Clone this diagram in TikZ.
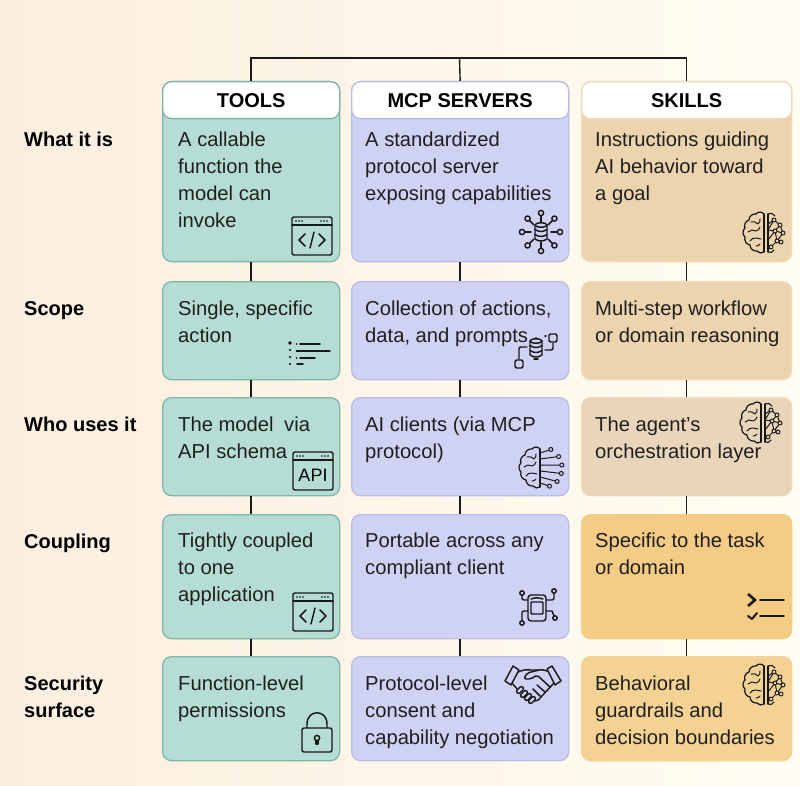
\documentclass[tikz,border=0pt]{standalone}
\usepackage{fontspec}
\setmainfont{Liberation Sans}
\usetikzlibrary{calc,positioning}

\definecolor{paperL}{HTML}{FBEEDF}
\definecolor{paperM}{HTML}{FDF5E9}
\definecolor{paperR}{HTML}{FFFDF2}
\definecolor{toolFill}{HTML}{B6DDD3}
\definecolor{toolEdge}{HTML}{7FB5A6}
\definecolor{mcpFill}{HTML}{CFD2F3}
\definecolor{mcpEdge}{HTML}{B9BDE6}
\definecolor{skillFill}{HTML}{ECD4AE}
\definecolor{skillEdge}{HTML}{F0DABA}
\definecolor{skillSoft}{HTML}{E9D5BA}
\definecolor{skillGold}{HTML}{F4CC86}
\definecolor{skillWarm}{HTML}{F4D294}
\definecolor{inkLine}{HTML}{1A1A1A}

\tikzset{
    x=1pt, y=-1pt,
    box/.style={rectangle, rounded corners=9pt, line width=1.3pt, anchor=north west, inner sep=0pt},
    toolbox/.style={box, fill=toolFill, draw=toolEdge, minimum width=177pt},
    mcpbox/.style={box, fill=mcpFill, draw=mcpEdge, minimum width=217pt},
    skillbox/.style={box, fill=skillFill, draw=skillEdge, minimum width=210pt},
    head/.style={box, fill=white, minimum height=37pt, font=\fontsize{20}{24}\selectfont\bfseries, text=black},
    bodytext/.style={anchor=north west, align=left, inner sep=0pt, text=black!88, font=\fontsize{20.2}{27}\selectfont},
    rowlabel/.style={anchor=north west, align=left, inner sep=0pt, text=black, font=\fontsize{20}{27}\selectfont\bfseries},
    link/.style={draw=inkLine, line width=1.4pt},
    ico/.style={line width=1.45pt, draw=black!90, line cap=round, line join=round},
    % window with </> or other content
    pics/winframe/.style={code={
        \draw[ico, rounded corners=2pt] (-20,-19) rectangle (20,19);
        \draw[ico] (-20,-11) -- (20,-11);
        \foreach \dx in {-16,-13,-10,9,12,15} \fill[black] (\dx,-15) circle (0.8);
    }},
    pics/codewin/.style={code={
        \pic {winframe};
        \draw[ico] (-7,-2) -- (-13,4) -- (-7,10);
        \draw[ico] (7,-2) -- (13,4) -- (7,10);
        \draw[ico] (2,-4) -- (-2,12);
    }},
    pics/listicon/.style={code={
        \fill[black] (-20,-12) circle (1.8);
        \foreach \yy in {-5,2,9} \fill[black] (-20,\yy) circle (1.2);
        \foreach \yy in {-11,-4,3} \fill[black] (-13.5,\yy) circle (0.9);
        \draw[ico, line width=1.7pt] (-10,-11) -- (10,-11);
        \draw[ico, line width=1.7pt] (-13,-4) -- (20,-4);
        \draw[ico, line width=1.7pt] (-10,3) -- (5,3);
        \draw[ico, line width=1.7pt] (-13,9) -- (-7,9);
    }},
    pics/dbstack/.style={code={
        \draw[ico] (-6,-7) -- (-6,7) to[bend right=35] (6,7) -- (6,-7);
        \draw[ico] (0,-7) ellipse (6 and 2.2);
        \draw[ico] (-6,-2.5) to[bend right=35] (6,-2.5);
        \draw[ico] (-6,2.5) to[bend right=35] (6,2.5);
    }},
    pics/hubicon/.style={code={
        \pic {dbstack};
        \foreach \a in {0,45,...,315} {
            \draw[ico] (\a:10) -- (\a:16);
            \draw[ico, fill=mcpFill] (\a:19) circle (2.6);
        }
    }},
    pics/flowicon/.style={code={
        \begin{scope}[scale=0.75]\pic {dbstack};\end{scope}
        \draw[ico, rounded corners=1.5pt] (13,-14) rectangle (21,-6) ;
        \draw[ico, rounded corners=1.5pt] (-21,12) rectangle (-13,20);
        \draw[ico, rounded corners=2pt] (17,-5) -- (17,2) -- (9,2);
        \draw[ico, rounded corners=2pt] (-17,11) -- (-17,-1) -- (-9,-1);
        \fill[black] (0,-10) circle (0.9);
        \draw[ico] (-2,11) -- (2,11);
        \draw[ico] (9,-12) -- (10,-12);
    }},
    pics/apiwin/.style={code={
        \pic {winframe};
        \node[inner sep=0pt, font=\fontsize{18}{18}\selectfont, text=black] at (0,4) {API};
    }},
    pics/lefthalf/.style={code={
        \draw[ico, line width=1.25pt] (-1,-19) to[bend right=55] (-9,-19) to[bend right=50] (-16,-13)
            to[bend right=50] (-20,-5) to[bend right=50] (-20,4) to[bend right=50] (-15,12)
            to[bend right=50] (-8,18) to[bend right=45] (-1,19);
        \draw[ico, line width=1.25pt] (-1,-19) -- (-1,19);
        \draw[ico, line width=1pt] (-14,-11) to[bend left=30] (-7,-9) to[bend right=30] (-5,-14);
        \draw[ico, line width=1pt] (-17,-1) to[bend left=40] (-9,-2) to[bend right=30] (-5,-6);
        \draw[ico, line width=1pt] (-15,8) to[bend left=30] (-9,5) to[bend right=20] (-4,6);
        \draw[ico, line width=1pt] (-9,13) to[bend right=30] (-5,11);
    }},
    pics/brainicon/.style={code={
        \pic {lefthalf};
        \draw[ico, line width=1.25pt] (3,-19) -- (3,19);
        \draw[ico, line width=1.1pt] (3,-19) to[bend left=50] (10,-17);
        \draw[ico, line width=1.1pt] (3,19) to[bend right=50] (9,17);
        \draw[ico, line width=1pt] (3,-9) -- (9,-13) -- (15,-8) -- (18,0) -- (12,8) -- (6,14) -- (3,15);
        \draw[ico, line width=1pt] (3,-3) -- (9,-13);
        \draw[ico, line width=1pt] (3,-3) -- (10,-2) -- (18,0);
        \draw[ico, line width=1pt] (10,-2) -- (12,8);
        \draw[ico, line width=1pt] (3,7) -- (10,-2);
        \draw[ico, line width=1pt] (15,-8) -- (10,-2);
        \draw[ico, line width=1pt] (12,8) -- (16,9);
        \foreach \px/\py in {9/-13,15/-8,18/0,10/-2,12/8,6/14,16/9}
            \draw[ico, line width=1pt, fill=skillFill] (\px,\py) circle (2);
    }},
    pics/raybrain/.style={code={
        \pic {lefthalf};
        \foreach \a/\r/\sx in {-62/21/-15,-33/21/-9,-8/21/-3,15/21/3,40/21/9,65/20/15}{
            \draw[ico, line width=1pt] (-1,\sx) -- (\a:\r);
            \draw[ico, line width=1pt, fill=mcpFill] (\a:\r) circle (2);
        }
    }},
    pics/chipicon/.style={code={
        \draw[ico, rounded corners=3pt] (-9,-13) rectangle (9,13);
        \draw[ico, rounded corners=1pt] (-6,-6) rectangle (6,6);
        \draw[ico] (-6,-9) to[bend left=20] (6,-9);
        \draw[ico, rounded corners=2pt] (-9,-8) -- (-15,-8) -- (-15,-14);
        \draw[ico, rounded corners=2pt] (9,-8) -- (17,-8) -- (17,-16);
        \draw[ico, rounded corners=2pt] (-9,3) -- (-15,3) -- (-15,13);
        \draw[ico] (9,3) -- (15,3) -- (17,8);
        \draw[ico, fill=mcpFill] (-15,-15) circle (2.2);
        \draw[ico, fill=mcpFill] (17,-17) circle (2.2);
        \draw[ico, fill=mcpFill] (-15,15) circle (2.2);
        \draw[ico, fill=mcpFill] (18,10) circle (2.2);
    }},
    pics/shakeicon/.style={code={
        \draw[ico] (-28,-3) -- (-20,-18) -- (-14,-14) -- (-22,1) -- cycle;
        \draw[ico] (28,-3) -- (19,-18) -- (14,-15) -- (22,1) -- cycle;
        \draw[ico] (-15,-12) to[bend left=15] (-2,-14) -- (6,-14) to[bend left=15] (14,-13);
        \draw[ico] (-21,-1) -- (-15,6);
        \draw[ico] (21,-1) -- (8,13) to[bend left=30] (2,17);
        \draw[ico, rounded corners=2pt] (6,-14) -- (-6,-11) -- (-9,-5) -- (-2,-5) -- (4,-9) -- (17,3);
        \foreach \dx/\dy in {-13/6,-9/10,-5/13,-1/16}
            \draw[ico, fill=mcpFill, rounded corners=2pt, rotate around={45:(\dx,\dy)}] (\dx-4,\dy-2) rectangle (\dx+4,\dy+2);
        \draw[ico] (12,8) -- (4,1);
        \draw[ico] (7,12) -- (0,5);
    }},
    pics/lockicon/.style={code={
        \draw[ico, rounded corners=2pt] (-15,-5) rectangle (15,19);
        \draw[ico] (-10,-5) -- (-10,-9) .. controls (-10,-24) and (10,-24) .. (10,-9) -- (10,-5);
        \draw[ico] (0,5) circle (2.6);
        \draw[ico] (-1,7.5) -- (-1,11) -- (1,11) -- (1,7.5);
    }},
    pics/checkicon/.style={code={
        \draw[ico, line width=2.6pt, line join=miter, line cap=butt] (-18,-14) -- (-11,-8) -- (-18,-2);
        \draw[ico, line width=1.7pt] (-6,-8) -- (18,-8);
        \draw[ico, line width=2pt] (-18,8) -- (-14,11) -- (-9,5);
        \draw[ico, line width=1.7pt] (-6,8) -- (18,8);
    }}
}

\begin{document}
\begin{tikzpicture}

    \useasboundingbox (0,0) rectangle (800,786);

    % Paper
    \shade[left color=paperL, middle color=paperM, right color=paperR] (0,0) rectangle (800,786);

    % Column heads and first row
    \node[toolbox, minimum height=180pt] (t1) at (162,81) {};
    \node[mcpbox, minimum height=180pt] (m1) at (351,81) {};
    \node[skillbox, minimum height=180pt] (s1) at (581,81) {};
    \node[head, draw=toolEdge, minimum width=177pt] (t0) at (162,81) {TOOLS};
    \node[head, draw=mcpEdge, minimum width=217pt] (m0) at (351,81) {MCP SERVERS};
    \node[head, draw=skillEdge, minimum width=210pt] (s0) at (581,81) {SKILLS};

    % Other rows
    \node[toolbox, minimum height=98pt] (t2) at (162,281) {};
    \node[mcpbox, minimum height=98pt] (m2) at (351,281) {};
    \node[skillbox, minimum height=98pt] (s2) at (581,281) {};

    \node[toolbox, minimum height=98pt] (t3) at (162,397) {};
    \node[mcpbox, minimum height=98pt] (m3) at (351,397) {};
    \node[skillbox, fill=skillSoft, minimum height=98pt] (s3) at (581,397) {};

    \node[toolbox, minimum height=124pt] (t4) at (162,514) {};
    \node[mcpbox, minimum height=124pt] (m4) at (351,514) {};
    \node[skillbox, fill=skillGold, draw=skillGold, minimum height=124pt] (s4) at (581,514) {};

    \node[toolbox, minimum height=104pt] (t5) at (162,656) {};
    \node[mcpbox, minimum height=104pt] (m5) at (351,656) {};
    \node[skillbox, fill=skillWarm, draw=skillWarm, minimum height=104pt] (s5) at (581,656) {};

    % Top bus
    \coordinate (busMid) at (459.5,58);
    \draw[link] (t0.north) -- (t0.north |- busMid) -- (s0.north |- busMid) -- (s0.north);
    \draw[link] (m0.north) -- (busMid);

    % Row to row
    \foreach \col in {t,m,s}
        \foreach \a/\b in {1/2,2/3,3/4,4/5}
            \draw[link] (\col\a.south) -- (\col\b.north);

    % Row labels
    \node[rowlabel] (lab1) at (24,132) {What it is};
    \node[rowlabel] (lab2) at (24,301) {Scope};
    \node[rowlabel] (lab3) at (24,417) {Who uses it};
    \node[rowlabel] (lab4) at (24,534) {Coupling};
    \node[rowlabel] (lab5) at (24,676) {Security\\surface};

    % Cell texts
    \node[bodytext] (t1x) at (178,132) {A callable\\function the\\model can\\invoke};
    \node[bodytext] (m1x) at (365,132) {A standardized\\protocol server\\exposing capabilities};
    \node[bodytext] (s1x) at (595,132) {Instructions guiding\\AI behavior toward\\a goal};

    \node[bodytext] (t2x) at (178,301) {Single, specific\\action};
    \node[bodytext] (m2x) at (365,301) {Collection of actions,\\data, and prompts};
    \node[bodytext] (s2x) at (595,301) {Multi-step workflow\\or domain reasoning};

    \node[bodytext] (t3x) at (178,417) {The model\hspace{5pt} via\\API schema};
    \node[bodytext] (m3x) at (365,417) {AI clients (via MCP\\protocol)};
    \node[bodytext] (s3x) at (595,417) {The agent’s\\orchestration layer};

    \node[bodytext] (t4x) at (178,533) {Tightly coupled\\to one\\application};
    \node[bodytext] (m4x) at (365,533) {Portable across any\\compliant client};
    \node[bodytext] (s4x) at (595,533) {Specific to the task\\or domain};

    \node[bodytext] (t5x) at (178,676) {Function-level\\permissions};
    \node[bodytext] (m5x) at (365,676) {Protocol-level\\consent and\\capability negotiation};
    \node[bodytext] (s5x) at (595,676) {Behavioral\\guardrails and\\decision boundaries};

    % Icons
    \pic at (312,236) {codewin};
    \pic at (541,232) {hubicon};
    \pic at (765,233) {brainicon};
    \pic at (310,355) {listicon};
    \pic at (536,348) {flowicon};
    \pic at (313,471) {apiwin};
    \pic at (541,468) {raybrain};
    \pic at (762,423) {brainicon};
    \pic at (313,612) {codewin};
    \pic at (537,608) {chipicon};
    \pic at (766,608) {checkicon};
    \pic at (317,733) {lockicon};
    \pic at (533,684) {shakeicon};
    \pic at (765,685) {brainicon};

\end{tikzpicture}
\end{document}
